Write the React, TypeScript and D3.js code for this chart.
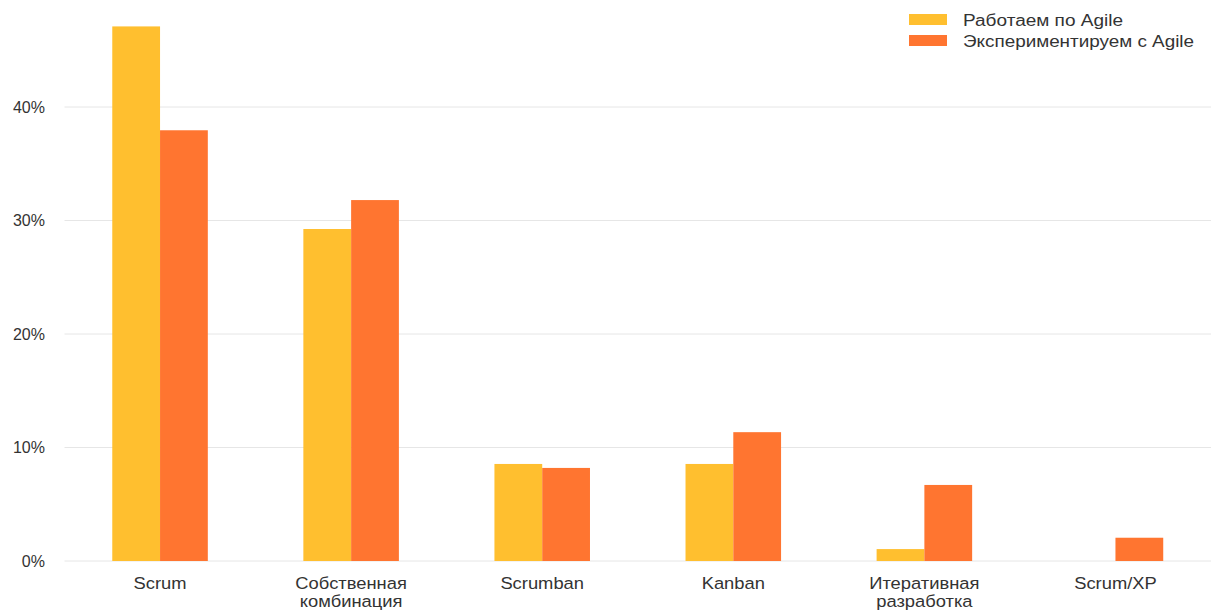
import React from "react";
import * as d3 from "d3";

const categories = [
  ["Scrum"],
  ["Собственная", "комбинация"],
  ["Scrumban"],
  ["Kanban"],
  ["Итеративная", "разработка"],
  ["Scrum/XP"],
];
const seriesNames = ["Работаем по Agile", "Экспериментируем с Agile"];
const working = [47.1, 29.25, 8.55, 8.55, 1.05, 0];
const experimenting = [37.95, 31.8, 8.2, 11.35, 6.7, 2.05];
const yTicks = [0, 10, 20, 30, 40];
const colors = ["#FFBF2F", "#FF7530"];

export default function App() {
  const width = 1211;
  const height = 610;
  const left = 64.5;
  const right = 1211;
  const y0 = 561;
  const y40 = 107;
  const x = d3.scaleBand<number>().domain(d3.range(categories.length)).range([left, right]).paddingInner(0.5).paddingOuter(0.25);
  const inner = d3.scaleBand<number>().domain([0, 1]).range([0, x.bandwidth()]);
  const y = d3.scaleLinear().domain([0, 40]).range([y0, y40]);
  const series = [working, experimenting];
  const font = "'Liberation Sans', Arial, sans-serif";
  const legendLengths = [160, 231];
  return (
    <svg width={width} height={height} style={{ position: "absolute", left: 0, top: 0 }} fontFamily={font}>
      {yTicks.map((t) => (
        <g key={t}>
          <line x1={left} x2={right} y1={y(t)} y2={y(t)} stroke="#e6e6e6" strokeWidth={1} />
          <text x={45} y={y(t)} dy="0.35em" textAnchor="end" fontSize={16} fill="#333">
            {t}%
          </text>
        </g>
      ))}
      {series.map((vals, s) =>
        vals.map((v, i) =>
          v > 0 ? (
            <rect
              key={`${s}-${i}`}
              x={(x(i) as number) + (inner(s) as number)}
              y={y(v)}
              width={inner.bandwidth()}
              height={y0 - y(v)}
              fill={colors[s]}
            />
          ) : null
        )
      )}
      {categories.map((lines, i) => (
        <g key={i} transform={`translate(${(x(i) as number) + x.bandwidth() / 2},0) scale(1.08,1)`}>
          <text textAnchor="middle" fontSize={17} fill="#333">
            {lines.map((l, j) => (
              <tspan key={j} x={0} y={589 + j * 18.5}>
                {l}
              </tspan>
            ))}
          </text>
        </g>
      ))}
      {seriesNames.map((n, s) => (
        <g key={n}>
          <rect x={909} y={14 + s * 21} width={38} height={11} fill={colors[s]} />
          <text
            x={963}
            y={20 + s * 21}
            dy="0.35em"
            fontSize={16}
            fill="#333"
            textLength={legendLengths[s]}
            lengthAdjust="spacingAndGlyphs"
          >
            {n}
          </text>
        </g>
      ))}
    </svg>
  );
}
